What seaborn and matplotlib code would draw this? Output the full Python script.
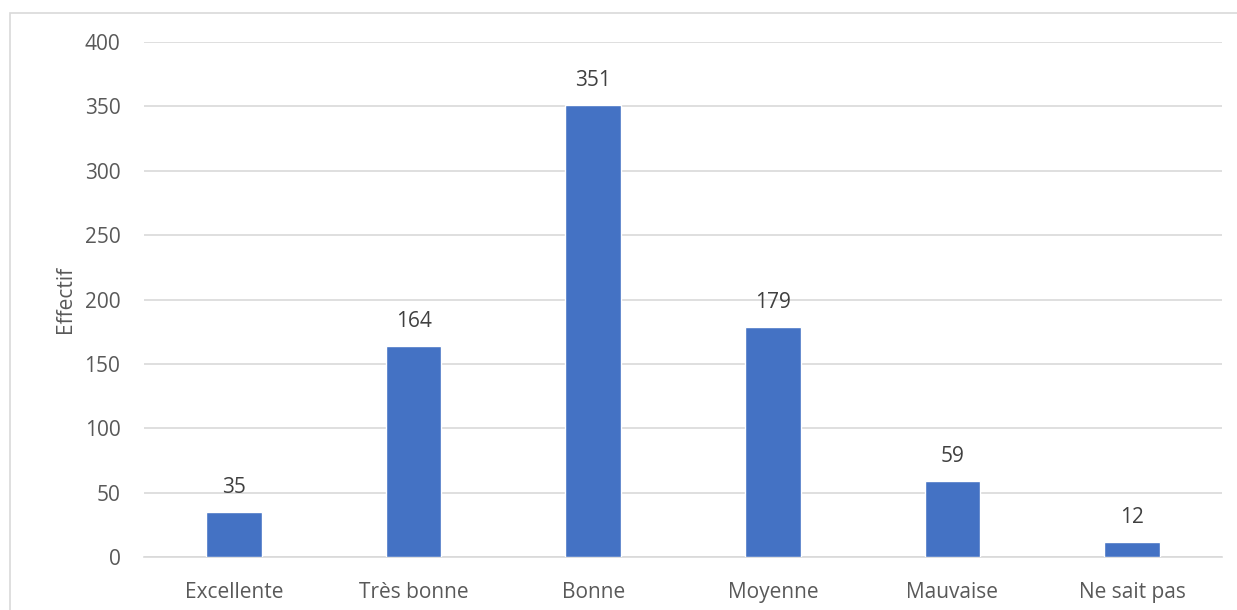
import matplotlib
matplotlib.use("Agg")
import matplotlib.pyplot as plt
import seaborn as sns
import pandas as pd
from matplotlib.patches import Rectangle

# Data
categories = ["Excellente", "Très bonne", "Bonne", "Moyenne", "Mauvaise", "Ne sait pas"]
effectifs = [35, 164, 351, 179, 59, 12]
y_ticks = [0, 50, 100, 150, 200, 250, 300, 350, 400]

df = pd.DataFrame({"categorie": categories, "effectif": effectifs})

sns.set_theme(style="white")
plt.rcParams["font.family"] = ["Open Sans", "DejaVu Sans"]

text_color = "#595959"
grid_color = "#D9D9D9"
bar_color = "#4472C4"
fs = 15

fig = plt.figure(figsize=(12.37, 6.10), dpi=100)
ax = fig.add_axes([144 / 1237, 1 - 557 / 610, (1222 - 144) / 1237, (557 - 42) / 610])

# chart area border (cut off at right and bottom in the reference)
fig.patches.append(Rectangle((10 / 1237, -0.05), 1.1, 1 - 13 / 610 + 0.05,
                             transform=fig.transFigure, fill=False,
                             edgecolor=grid_color, linewidth=1.2))

sns.barplot(data=df, x="categorie", y="effectif", color=bar_color,
            width=0.31, saturation=1, ax=ax, zorder=3)

ax.set_ylim(0, 400)
ax.set_yticks(y_ticks)
ax.set_xlim(-0.5, len(categories) - 0.5)
ax.yaxis.grid(True, color=grid_color, linewidth=1.2, zorder=0)
ax.set_axisbelow(True)
for side in ["top", "right", "left"]:
    ax.spines[side].set_visible(False)
ax.spines["bottom"].set_color(grid_color)
ax.spines["bottom"].set_linewidth(1.2)

ax.tick_params(axis="both", length=0, labelsize=fs, colors=text_color)
ax.tick_params(axis="y", pad=17)
ax.tick_params(axis="x", pad=18)
ax.set_xlabel("")
ax.set_ylabel("Effectif", fontsize=fs, color=text_color, labelpad=6)

for container in ax.containers:
    ax.bar_label(container, fontsize=fs, color="#404040", padding=10)

fig.savefig("out.png", dpi=100)
